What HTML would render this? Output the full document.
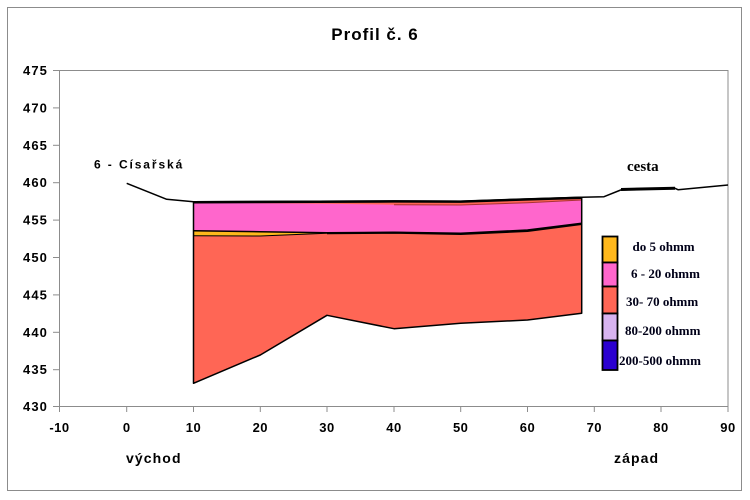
<!DOCTYPE html>
<html><head><meta charset="utf-8"><style>
html,body{margin:0;padding:0;background:#fff;}
svg{display:block;}
</style></head><body>
<svg width="750" height="500" viewBox="0 0 750 500" xmlns="http://www.w3.org/2000/svg">
<rect x="0" y="0" width="750" height="500" fill="#fff"/>
<rect x="7.5" y="7.5" width="734" height="483" fill="none" stroke="#8c8c8c" stroke-width="1"/>
<text x="375" y="40" text-anchor="middle" font-family="Liberation Sans, sans-serif" font-weight="bold" font-size="17" letter-spacing="1">Profil č. 6</text>
<rect x="59.5" y="70.5" width="668.5" height="336" fill="none" stroke="#8c8c8c" stroke-width="1"/>
<g stroke="#8c8c8c" stroke-width="1">
<line x1="53" y1="70.5" x2="59.5" y2="70.5"/>
<line x1="53" y1="107.9" x2="59.5" y2="107.9"/>
<line x1="53" y1="145.3" x2="59.5" y2="145.3"/>
<line x1="53" y1="182.7" x2="59.5" y2="182.7"/>
<line x1="53" y1="220.1" x2="59.5" y2="220.1"/>
<line x1="53" y1="257.5" x2="59.5" y2="257.5"/>
<line x1="53" y1="294.9" x2="59.5" y2="294.9"/>
<line x1="53" y1="332.3" x2="59.5" y2="332.3"/>
<line x1="53" y1="369.7" x2="59.5" y2="369.7"/>
<line x1="53" y1="406.5" x2="59.5" y2="406.5"/>
<line x1="59.5" y1="406.5" x2="59.5" y2="412"/>
<line x1="126.7" y1="406.5" x2="126.7" y2="412"/>
<line x1="193.5" y1="406.5" x2="193.5" y2="412"/>
<line x1="260.3" y1="406.5" x2="260.3" y2="412"/>
<line x1="327" y1="406.5" x2="327" y2="412"/>
<line x1="394" y1="406.5" x2="394" y2="412"/>
<line x1="460.7" y1="406.5" x2="460.7" y2="412"/>
<line x1="527.5" y1="406.5" x2="527.5" y2="412"/>
<line x1="594.3" y1="406.5" x2="594.3" y2="412"/>
<line x1="661" y1="406.5" x2="661" y2="412"/>
<line x1="728" y1="406.5" x2="728" y2="412"/>
</g>
<g font-family="Liberation Sans, sans-serif" font-weight="bold" font-size="13" letter-spacing="1.1" text-anchor="end" fill="#000">
<text x="48" y="75">475</text>
<text x="48" y="112.4">470</text>
<text x="48" y="149.8">465</text>
<text x="48" y="187.2">460</text>
<text x="48" y="224.6">455</text>
<text x="48" y="262">450</text>
<text x="48" y="299.4">445</text>
<text x="48" y="336.8">440</text>
<text x="48" y="374.2">435</text>
<text x="48" y="411">430</text>
</g>
<g font-family="Liberation Sans, sans-serif" font-weight="bold" font-size="13" letter-spacing="0.5" text-anchor="middle" fill="#000">
<text x="59.5" y="432">-10</text>
<text x="126.7" y="432">0</text>
<text x="193.5" y="432">10</text>
<text x="260.3" y="432">20</text>
<text x="327" y="432">30</text>
<text x="394" y="432">40</text>
<text x="460.7" y="432">50</text>
<text x="527.5" y="432">60</text>
<text x="594.3" y="432">70</text>
<text x="661" y="432">80</text>
<text x="728" y="432">90</text>
</g>
<g font-family="Liberation Sans, sans-serif" font-weight="bold" font-size="14" letter-spacing="1.1" fill="#000">
<text x="126" y="463">východ</text>
<text x="614" y="463">západ</text>
</g>
<text x="94" y="168.5" font-family="Liberation Sans, sans-serif" font-weight="bold" font-size="12" letter-spacing="1.9" fill="#000">6 - Císařská</text>
<text x="627" y="171" font-family="Liberation Serif, serif" font-weight="bold" font-size="15" fill="#000">cesta</text>

<!-- salmon base -->
<polygon fill="#FF6655" points="193.5,201.7 394,201 460.7,201.2 527.5,199 581.7,197.3 581.7,313.3 527.5,320 460.7,323.3 394,328.7 327,315.3 260.3,355 193.5,383.3"/>
<!-- pink -->
<polygon fill="#FF66CC" points="193.5,202.8 260.3,203.2 327,203.8 394,204.7 460.7,205 527.5,202.7 581.7,200 581.7,223.3 527.5,230 460.7,233.3 394,232.3 327,232.7 260.3,231.7 193.5,230.7"/>
<!-- orange strip -->
<polygon fill="#FFB81C" points="193.5,230.7 260.3,231.7 327,232.7 327,233.3 260.3,236 193.5,235.7"/>
<g fill="none" stroke="#000" stroke-linejoin="round">
<polyline stroke-width="1.5" points="193.5,230.7 260.3,231.7 327,232.7 394,232.3 460.7,233.3 527.5,230 581.7,223.3"/>
<polyline stroke-width="2" points="327,233.3 394,232.8 460.7,234 527.5,231 581.7,224"/>
<polyline stroke-width="1" points="193.5,235.7 260.3,236 327,233.3"/>
<polyline stroke-width="1" stroke="#a33" points="394,204.7 460.7,205 527.5,202.7 581.7,200"/>
<polyline stroke-width="1.5" points="193.5,201.7 193.5,383.3 260.3,355 327,315.3 394,328.7 460.7,323.3 527.5,320 581.7,313.3 581.7,197.3"/>
<polyline stroke-width="1.5" points="126.7,183.3 166.7,199.3 193.5,201.7 394,201 460.7,201.2 527.5,199 581.7,197.3 604,196.7 620.7,190 675,188.3 678,189.7 728,185"/>
<polyline stroke-width="2.5" points="193.5,202.2 394,201.4 460.7,201.6 527.5,199.4 581.7,197.7"/>
<polyline stroke-width="3" points="621,189.5 675,188.2"/>
</g>

<!-- legend -->
<g stroke="#000" stroke-width="1.8">
<rect x="602.5" y="236.5" width="15" height="26" fill="#FFB81C"/>
<rect x="602.5" y="262.5" width="15" height="24" fill="#FF66CC"/>
<rect x="602.5" y="286.5" width="15" height="27" fill="#FF6655"/>
<rect x="602.5" y="313.5" width="15" height="27" fill="#D8B4F0"/>
<rect x="602.5" y="340.5" width="15" height="29.5" fill="#2B00D0"/>
</g>
<g font-family="Liberation Serif, serif" font-weight="bold" font-size="13" fill="#000018">
<text x="632.5" y="251">do 5 ohmm</text>
<text x="631" y="278">6 - 20 ohmm</text>
<text x="626" y="306">30- 70 ohmm</text>
<text x="625" y="335">80-200 ohmm</text>
<text x="619" y="365">200-500 ohmm</text>
</g>
</svg>
</body></html>
